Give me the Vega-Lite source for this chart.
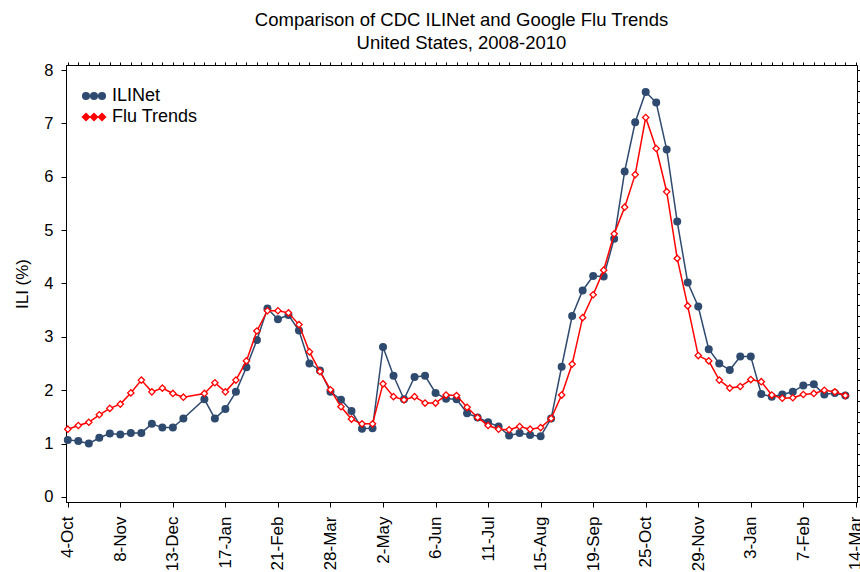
{
  "$schema": "https://vega.github.io/schema/vega-lite/v6.json",
  "width": 791,
  "height": 437,
  "autosize": "none",
  "padding": {"left": 66, "top": 65, "right": 3, "bottom": 70},
  "background": "white",
  "config": {
    "font": "Liberation Sans",
    "view": {"stroke": "black", "strokeWidth": 1},
    "axis": {"grid": false, "domainColor": "black", "tickColor": "black", "labelColor": "black", "titleColor": "black", "domainWidth": 1, "tickWidth": 1}
  },
  "title": {
    "text": ["Comparison of CDC ILINet and Google Flu Trends", "United States, 2008-2010"],
    "fontSize": 18.5,
    "fontWeight": "normal",
    "color": "black",
    "anchor": "middle",
    "lineHeight": 23,
    "offset": 9
  },
  "data": {
    "values": [
      {"week": 0, "series": "ILINet", "value": 1.07},
      {"week": 1, "series": "ILINet", "value": 1.05},
      {"week": 2, "series": "ILINet", "value": 1.00},
      {"week": 3, "series": "ILINet", "value": 1.11},
      {"week": 4, "series": "ILINet", "value": 1.19},
      {"week": 5, "series": "ILINet", "value": 1.17},
      {"week": 6, "series": "ILINet", "value": 1.20},
      {"week": 7, "series": "ILINet", "value": 1.20},
      {"week": 8, "series": "ILINet", "value": 1.37},
      {"week": 9, "series": "ILINet", "value": 1.30},
      {"week": 10, "series": "ILINet", "value": 1.30},
      {"week": 11, "series": "ILINet", "value": 1.47},
      {"week": 13, "series": "ILINet", "value": 1.83},
      {"week": 14, "series": "ILINet", "value": 1.47},
      {"week": 15, "series": "ILINet", "value": 1.65},
      {"week": 16, "series": "ILINet", "value": 1.97},
      {"week": 17, "series": "ILINet", "value": 2.43},
      {"week": 18, "series": "ILINet", "value": 2.94},
      {"week": 19, "series": "ILINet", "value": 3.53},
      {"week": 20, "series": "ILINet", "value": 3.33},
      {"week": 21, "series": "ILINet", "value": 3.41},
      {"week": 22, "series": "ILINet", "value": 3.12},
      {"week": 23, "series": "ILINet", "value": 2.50},
      {"week": 24, "series": "ILINet", "value": 2.37},
      {"week": 25, "series": "ILINet", "value": 1.97},
      {"week": 26, "series": "ILINet", "value": 1.82},
      {"week": 27, "series": "ILINet", "value": 1.61},
      {"week": 28, "series": "ILINet", "value": 1.28},
      {"week": 29, "series": "ILINet", "value": 1.29},
      {"week": 30, "series": "ILINet", "value": 2.81},
      {"week": 31, "series": "ILINet", "value": 2.27},
      {"week": 32, "series": "ILINet", "value": 1.83},
      {"week": 33, "series": "ILINet", "value": 2.25},
      {"week": 34, "series": "ILINet", "value": 2.27},
      {"week": 35, "series": "ILINet", "value": 1.95},
      {"week": 36, "series": "ILINet", "value": 1.84},
      {"week": 37, "series": "ILINet", "value": 1.83},
      {"week": 38, "series": "ILINet", "value": 1.57},
      {"week": 39, "series": "ILINet", "value": 1.49},
      {"week": 40, "series": "ILINet", "value": 1.40},
      {"week": 41, "series": "ILINet", "value": 1.32},
      {"week": 42, "series": "ILINet", "value": 1.15},
      {"week": 43, "series": "ILINet", "value": 1.20},
      {"week": 44, "series": "ILINet", "value": 1.16},
      {"week": 45, "series": "ILINet", "value": 1.14},
      {"week": 46, "series": "ILINet", "value": 1.47},
      {"week": 47, "series": "ILINet", "value": 2.44},
      {"week": 48, "series": "ILINet", "value": 3.39},
      {"week": 49, "series": "ILINet", "value": 3.87},
      {"week": 50, "series": "ILINet", "value": 4.14},
      {"week": 51, "series": "ILINet", "value": 4.13},
      {"week": 52, "series": "ILINet", "value": 4.84},
      {"week": 53, "series": "ILINet", "value": 6.10},
      {"week": 54, "series": "ILINet", "value": 7.02},
      {"week": 55, "series": "ILINet", "value": 7.59},
      {"week": 56, "series": "ILINet", "value": 7.39},
      {"week": 57, "series": "ILINet", "value": 6.51},
      {"week": 58, "series": "ILINet", "value": 5.16},
      {"week": 59, "series": "ILINet", "value": 4.02},
      {"week": 60, "series": "ILINet", "value": 3.57},
      {"week": 61, "series": "ILINet", "value": 2.77},
      {"week": 62, "series": "ILINet", "value": 2.50},
      {"week": 63, "series": "ILINet", "value": 2.38},
      {"week": 64, "series": "ILINet", "value": 2.63},
      {"week": 65, "series": "ILINet", "value": 2.63},
      {"week": 66, "series": "ILINet", "value": 1.93},
      {"week": 67, "series": "ILINet", "value": 1.88},
      {"week": 68, "series": "ILINet", "value": 1.92},
      {"week": 69, "series": "ILINet", "value": 1.97},
      {"week": 70, "series": "ILINet", "value": 2.09},
      {"week": 71, "series": "ILINet", "value": 2.11},
      {"week": 72, "series": "ILINet", "value": 1.92},
      {"week": 73, "series": "ILINet", "value": 1.95},
      {"week": 74, "series": "ILINet", "value": 1.90},
      {"week": 0, "series": "Flu Trends", "value": 1.27},
      {"week": 1, "series": "Flu Trends", "value": 1.34},
      {"week": 2, "series": "Flu Trends", "value": 1.40},
      {"week": 3, "series": "Flu Trends", "value": 1.54},
      {"week": 4, "series": "Flu Trends", "value": 1.66},
      {"week": 5, "series": "Flu Trends", "value": 1.74},
      {"week": 6, "series": "Flu Trends", "value": 1.95},
      {"week": 7, "series": "Flu Trends", "value": 2.19},
      {"week": 8, "series": "Flu Trends", "value": 1.97},
      {"week": 9, "series": "Flu Trends", "value": 2.04},
      {"week": 10, "series": "Flu Trends", "value": 1.94},
      {"week": 11, "series": "Flu Trends", "value": 1.87},
      {"week": 13, "series": "Flu Trends", "value": 1.94},
      {"week": 14, "series": "Flu Trends", "value": 2.14},
      {"week": 15, "series": "Flu Trends", "value": 1.97},
      {"week": 16, "series": "Flu Trends", "value": 2.19},
      {"week": 17, "series": "Flu Trends", "value": 2.55},
      {"week": 18, "series": "Flu Trends", "value": 3.11},
      {"week": 19, "series": "Flu Trends", "value": 3.49},
      {"week": 20, "series": "Flu Trends", "value": 3.49},
      {"week": 21, "series": "Flu Trends", "value": 3.45},
      {"week": 22, "series": "Flu Trends", "value": 3.23},
      {"week": 23, "series": "Flu Trends", "value": 2.72},
      {"week": 24, "series": "Flu Trends", "value": 2.35},
      {"week": 25, "series": "Flu Trends", "value": 2.01},
      {"week": 26, "series": "Flu Trends", "value": 1.69},
      {"week": 27, "series": "Flu Trends", "value": 1.46},
      {"week": 28, "series": "Flu Trends", "value": 1.37},
      {"week": 29, "series": "Flu Trends", "value": 1.37},
      {"week": 30, "series": "Flu Trends", "value": 2.12},
      {"week": 31, "series": "Flu Trends", "value": 1.88},
      {"week": 32, "series": "Flu Trends", "value": 1.82},
      {"week": 33, "series": "Flu Trends", "value": 1.88},
      {"week": 34, "series": "Flu Trends", "value": 1.76},
      {"week": 35, "series": "Flu Trends", "value": 1.76},
      {"week": 36, "series": "Flu Trends", "value": 1.91},
      {"week": 37, "series": "Flu Trends", "value": 1.90},
      {"week": 38, "series": "Flu Trends", "value": 1.68},
      {"week": 39, "series": "Flu Trends", "value": 1.49},
      {"week": 40, "series": "Flu Trends", "value": 1.34},
      {"week": 41, "series": "Flu Trends", "value": 1.27},
      {"week": 42, "series": "Flu Trends", "value": 1.26},
      {"week": 43, "series": "Flu Trends", "value": 1.32},
      {"week": 44, "series": "Flu Trends", "value": 1.27},
      {"week": 45, "series": "Flu Trends", "value": 1.30},
      {"week": 46, "series": "Flu Trends", "value": 1.47},
      {"week": 47, "series": "Flu Trends", "value": 1.91},
      {"week": 48, "series": "Flu Trends", "value": 2.49},
      {"week": 49, "series": "Flu Trends", "value": 3.36},
      {"week": 50, "series": "Flu Trends", "value": 3.79},
      {"week": 51, "series": "Flu Trends", "value": 4.25},
      {"week": 52, "series": "Flu Trends", "value": 4.93},
      {"week": 53, "series": "Flu Trends", "value": 5.43},
      {"week": 54, "series": "Flu Trends", "value": 6.04},
      {"week": 55, "series": "Flu Trends", "value": 7.11},
      {"week": 56, "series": "Flu Trends", "value": 6.53},
      {"week": 57, "series": "Flu Trends", "value": 5.72},
      {"week": 58, "series": "Flu Trends", "value": 4.47},
      {"week": 59, "series": "Flu Trends", "value": 3.58},
      {"week": 60, "series": "Flu Trends", "value": 2.65},
      {"week": 61, "series": "Flu Trends", "value": 2.55},
      {"week": 62, "series": "Flu Trends", "value": 2.19},
      {"week": 63, "series": "Flu Trends", "value": 2.04},
      {"week": 64, "series": "Flu Trends", "value": 2.07},
      {"week": 65, "series": "Flu Trends", "value": 2.20},
      {"week": 66, "series": "Flu Trends", "value": 2.16},
      {"week": 67, "series": "Flu Trends", "value": 1.91},
      {"week": 68, "series": "Flu Trends", "value": 1.85},
      {"week": 69, "series": "Flu Trends", "value": 1.86},
      {"week": 70, "series": "Flu Trends", "value": 1.92},
      {"week": 71, "series": "Flu Trends", "value": 1.94},
      {"week": 72, "series": "Flu Trends", "value": 2.00},
      {"week": 73, "series": "Flu Trends", "value": 1.97},
      {"week": 74, "series": "Flu Trends", "value": 1.90}
    ]
  },
  "resolve": {"axis": {"x": "independent", "y": "independent"}},
  "layer": [
    {
      "transform": [{"filter": "datum.series === 'ILINet'"}],
      "mark": {"type": "line", "strokeWidth": 1.5},
      "encoding": {
        "x": {
          "field": "week", "type": "quantitative",
          "scale": {"domain": [-0.17, 75.11], "nice": false, "zero": false},
          "axis": {
            "values": [0, 5, 10, 15, 20, 25, 30, 35, 40, 45, 50, 55, 60, 65, 70, 75],
            "tickSize": 5,
            "labelAngle": -90,
            "labelAlign": "right",
            "labelBaseline": "middle",
            "labelFontSize": 17,
            "labelPadding": 9,
            "labelFlush": false,
            "labelOverlap": false,
            "labelExpr": "['4-Oct','8-Nov','13-Dec','17-Jan','21-Feb','28-Mar','2-May','6-Jun','11-Jul','15-Aug','19-Sep','25-Oct','29-Nov','3-Jan','7-Feb','14-Mar'][round(datum.value/5)]",
            "title": null
          }
        },
        "y": {
          "field": "value", "type": "quantitative",
          "scale": {"domain": [-0.094, 8.094], "nice": false, "zero": false},
          "axis": {
            "values": [0, 1, 2, 3, 4, 5, 6, 7, 8],
            "tickSize": 5,
            "labelFontSize": 16.5,
            "labelPadding": 8,
            "labelFlush": false,
            "title": "ILI (%)",
            "titleFontSize": 17,
            "titleFontWeight": "normal",
            "titlePadding": 12
          }
        },
        "color": {
          "field": "series", "type": "nominal",
          "scale": {"domain": ["ILINet", "Flu Trends"], "range": ["#2f4a6f", "#ff0000"]},
          "legend": {
            "orient": "none",
            "legendX": 16,
            "legendY": 19,
            "title": null,
            "padding": 0,
            "symbolSize": 484,
            "symbolStrokeWidth": 1.5,
            "rowPadding": 0,
            "labelOffset": 6,
            "labelFontSize": 18,
            "labelColor": "black",
            "encode": {
              "symbols": {
                "update": {
                  "shape": {"signal": "datum.value === 'ILINet' ? 'M-1,0L1,0M-1.027,0a0.3,0.3 0 1,0 0.6,0a0.3,0.3 0 1,0 -0.6,0M-0.3,0a0.3,0.3 0 1,0 0.6,0a0.3,0.3 0 1,0 -0.6,0M0.427,0a0.3,0.3 0 1,0 0.6,0a0.3,0.3 0 1,0 -0.6,0' : 'M-1,0L1,0M-0.727,-0.32L-0.407,0L-0.727,0.32L-1.047,0ZM0,-0.32L0.32,0L0,0.32L-0.32,0ZM0.727,-0.32L1.047,0L0.727,0.32L0.407,0Z'"},
                  "fill": {"signal": "datum.value === 'ILINet' ? '#2f4a6f' : '#ffffff'"},
                  "fillOpacity": {"value": 1},
                  "stroke": {"signal": "datum.value === 'ILINet' ? '#2f4a6f' : '#ff0000'"},
                  "strokeWidth": {"value": 1.5}
                }
              }
            }
          }
        }
      }
    },
    {
      "transform": [{"filter": "datum.series === 'ILINet'"}],
      "mark": {"type": "point", "shape": "circle", "filled": true, "size": 64, "opacity": 1},
      "encoding": {
        "x": {
          "field": "week", "type": "quantitative",
          "axis": {
            "values": [0,1,2,3,4,5,6,7,8,9,10,11,12,13,14,15,16,17,18,19,20,21,22,23,24,25,26,27,28,29,30,31,32,33,34,35,36,37,38,39,40,41,42,43,44,45,46,47,48,49,50,51,52,53,54,55,56,57,58,59,60,61,62,63,64,65,66,67,68,69,70,71,72,73,74,75],
            "tickSize": 3,
            "labels": false,
            "domain": false,
            "title": null
          }
        },
        "y": {
          "field": "value", "type": "quantitative",
          "axis": {
            "values": [0,0.2,0.4,0.6,0.8,1,1.2,1.4,1.6,1.8,2,2.2,2.4,2.6,2.8,3,3.2,3.4,3.6,3.8,4,4.2,4.4,4.6,4.8,5,5.2,5.4,5.6,5.8,6,6.2,6.4,6.6,6.8,7,7.2,7.4,7.6,7.8,8],
            "tickSize": 3,
            "labels": false,
            "domain": false,
            "title": null
          }
        },
        "color": {"field": "series", "type": "nominal"}
      }
    },
    {
      "transform": [{"filter": "datum.series === 'Flu Trends'"}],
      "mark": {"type": "line", "strokeWidth": 1.5},
      "encoding": {
        "x": {"field": "week", "type": "quantitative", "axis": null},
        "y": {"field": "value", "type": "quantitative", "axis": null},
        "color": {"field": "series", "type": "nominal"}
      }
    },
    {
      "transform": [{"filter": "datum.series === 'Flu Trends'"}],
      "mark": {"type": "point", "shape": "diamond", "filled": false, "fill": "white", "fillOpacity": 1, "size": 40, "strokeWidth": 1.3, "opacity": 1},
      "encoding": {
        "x": {"field": "week", "type": "quantitative", "axis": null},
        "y": {"field": "value", "type": "quantitative", "axis": null},
        "color": {"field": "series", "type": "nominal"}
      }
    }
  ]
}
